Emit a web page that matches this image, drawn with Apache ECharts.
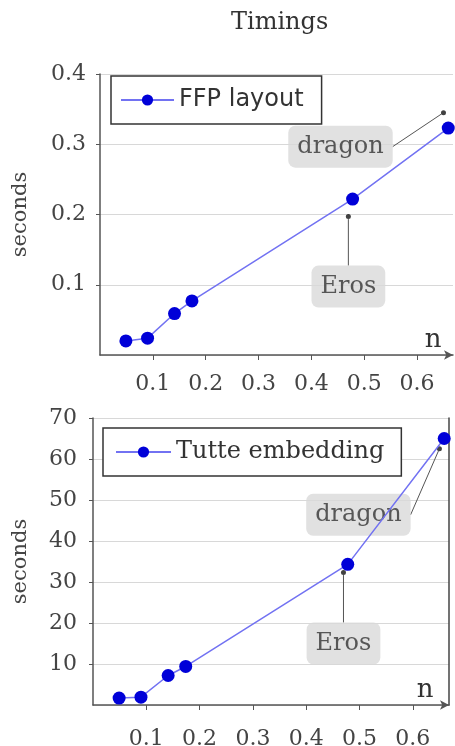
<!DOCTYPE html>
<html><head><meta charset="utf-8">
<script src="https://cdn.jsdelivr.net/npm/echarts@6/dist/echarts.min.js"></script>
<style>html,body{margin:0;padding:0;background:#fff}#c{width:455px;height:746px}</style>
</head><body><div id="c"></div>
<script>
const nValues = [0.049, 0.090, 0.141, 0.174, 0.478, 0.659];
const ffpSeconds = [0.020, 0.024, 0.059, 0.077, 0.222, 0.323];
const tutteSeconds = [1.7, 1.9, 7.2, 9.4, 34.3, 65.0];
const annotNames = ['Eros', 'dragon'];
const annotN = [0.470, 0.650];
const ffpAnnot = [0.197, 0.345];
const tutteAnnot = [32.3, 62.5];

const SERIF = 'DejaVu Serif';
const pairs = (xs, ys) => xs.map((x, i) => [x, ys[i]]);
const annotData = (ys) => annotNames.map((nm, i) => ({name: nm, value: [annotN[i], ys[i]]}));

const topOffsets = [[0, 70], [-103, 34]];
const botOffsets = [[0, 71], [-81, 66]];

function xAxis(gridIndex, nameGap, margin) {
  return {
    type: 'value', gridIndex, min: 0, max: 0.668, interval: 0.1,
    name: 'n', nameLocation: 'end', nameGap: nameGap,
    nameTextStyle: {fontFamily: SERIF, fontSize: 26, color: '#333', verticalAlign: 'bottom', align: 'center', padding: [0, 0, 2, 0]},
    axisLine: {show: true, symbol: ['none', 'arrow'], symbolSize: [7, 9], lineStyle: {color: '#555', width: 1.5}},
    axisTick: {show: true, length: 5, lineStyle: {color: '#555'}},
    axisLabel: {fontFamily: SERIF, fontSize: 22, color: '#444', margin: margin, showMinLabel: false, showMaxLabel: false,
      formatter: v => (Math.round(v * 10) / 10).toString()},
    splitLine: {show: false}
  };
}
function yAxis(gridIndex, max, interval, nameGap, dec, margin) {
  return {
    type: 'value', gridIndex, min: 0, max, interval,
    name: 'seconds', nameLocation: 'middle', nameGap: nameGap, nameRotate: 90,
    nameTextStyle: {fontFamily: SERIF, fontSize: 21, color: '#444'},
    axisLine: {show: true, lineStyle: {color: '#555', width: 1.5}},
    axisTick: {show: true, length: 4, lineStyle: {color: '#555'}},
    axisLabel: {fontFamily: SERIF, fontSize: 22, color: '#444', margin: margin, showMinLabel: false,
      formatter: v => v.toFixed(dec)},
    splitLine: {show: true, lineStyle: {color: '#d8d8d8', width: 1.2}}
  };
}
function lineSeries(name, idx, data) {
  return {
    name, type: 'line', xAxisIndex: idx, yAxisIndex: idx, data, z: 4,
    symbol: 'circle', symbolSize: 13,
    itemStyle: {color: '#0000d8'},
    lineStyle: {color: '#7272f2', width: 1.5}
  };
}
function annotSeries(idx, data, offsets) {
  return {
    type: 'scatter', xAxisIndex: idx, yAxisIndex: idx, data, z: 3,
    symbol: 'circle', symbolSize: 5, itemStyle: {color: '#111'},
    silent: true,
    label: {show: true, position: 'inside', formatter: p => p.name,
      fontFamily: SERIF, fontSize: 24, color: '#333', backgroundColor: '#dadada',
      borderRadius: 7, padding: [7, 9], lineHeight: 28},
    labelLayout: p => ({dx: offsets[p.dataIndex][0], dy: offsets[p.dataIndex][1]}),
    labelLine: {show: true, lineStyle: {color: '#555', width: 1}}
  };
}

const chart = echarts.init(document.getElementById('c'), null, {renderer: 'canvas'});
chart.setOption({
  animation: false,
  backgroundColor: '#fff',
  title: {text: 'Timings', left: 226, top: 6,
    textStyle: {fontFamily: SERIF, fontSize: 24, fontWeight: 'normal', color: '#333'}},
  legend: [
    {data: ['FFP layout'], left: 111, top: 76, orient: 'vertical',
     itemWidth: 53, itemHeight: 14, padding: [12, 18, 12, 9],
     borderColor: '#333', borderWidth: 1.5, backgroundColor: '#fff',
     textStyle: {fontFamily: 'DejaVu Sans', fontSize: 24, color: '#333'}},
    {data: ['Tutte embedding'], left: 103, top: 428, orient: 'vertical',
     itemWidth: 55, itemHeight: 14, padding: [12, 17, 12, 12],
     borderColor: '#333', borderWidth: 1.5, backgroundColor: '#fff',
     textStyle: {fontFamily: SERIF, fontSize: 24, color: '#333'}}
  ],
  grid: [
    {left: 100, top: 74, right: 2, bottom: 391, show: false, outerBoundsMode: 'none', containLabel: false},
    {left: 93, top: 418, right: 6, bottom: 41, show: false, outerBoundsMode: 'none', containLabel: false}
  ],
  xAxis: [xAxis(0, -20, 18), xAxis(1, -24, 23)],
  yAxis: [
    yAxis(0, 0.4, 0.1, 69, 1, 14),
    yAxis(1, 70, 10, 62, 0, 16),
    {type: 'value', gridIndex: 1, position: 'right', min: 0, max: 70, interval: 10,
     axisLine: {show: true, lineStyle: {color: '#444', width: 1.5}},
     axisTick: {show: false}, axisLabel: {show: false}, splitLine: {show: false}}
  ],
  series: [
    annotSeries(0, annotData(ffpAnnot), topOffsets),
    lineSeries('FFP layout', 0, pairs(nValues, ffpSeconds)),
    annotSeries(1, annotData(tutteAnnot), botOffsets),
    lineSeries('Tutte embedding', 1, pairs(nValues, tutteSeconds))
  ]
});
</script></body></html>
